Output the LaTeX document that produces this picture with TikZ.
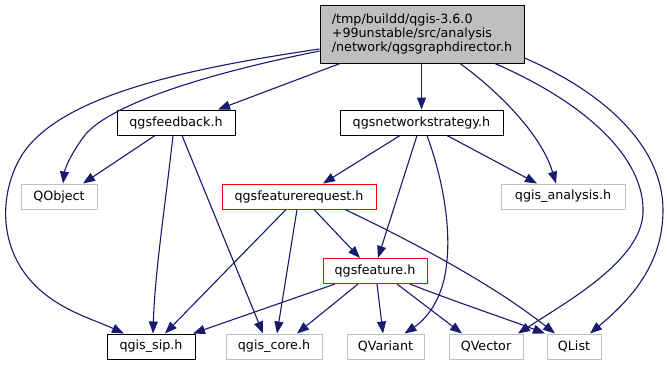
\documentclass[tikz,border=0pt]{standalone}
\usepackage{fontspec}
\setmainfont{DejaVu Sans}
\usetikzlibrary{arrows.meta}
\definecolor{edgeblue}{HTML}{191970}
\definecolor{extgray}{HTML}{BFBFBF}
\definecolor{hdrfill}{HTML}{BFBFBF}
\definecolor{docred}{HTML}{FF0000}
\begin{document}
\begin{tikzpicture}[x=1pt,y=-1pt,
  hbox/.style={draw, line width=1pt, minimum height=25pt, inner sep=0pt,
    font=\fontsize{12.7}{14}\selectfont},
  docbox/.style={hbox, draw=black},
  redbox/.style={hbox, draw=docred},
  extbox/.style={hbox, draw=extgray},
  dep/.style={draw=edgeblue, line width=1.1pt,
    -{Triangle[length=12pt,width=9pt]}, edgeblue}]
\useasboundingbox (0,0) rectangle (667,365);

% header files
\node[hbox, fill=hdrfill, minimum width=204pt, minimum height=58pt, align=left]
  (T) at (422,34) {/tmp/buildd/qgis-3.6.0\\+99unstable/src/analysis\\/network/qgsgraphdirector.h};
\node[docbox, minimum width=118pt] (F) at (176,122.5) {qgsfeedback.h};
\node[docbox, minimum width=163pt] (N) at (421.5,122.5) {qgsnetworkstrategy.h};
\node[extbox, minimum width=76pt]  (O) at (59,196.5) {QObject};
\node[redbox, minimum width=154pt] (R) at (299,196.5) {qgsfeaturerequest.h};
\node[extbox, minimum width=124pt] (A) at (563,196.5) {qgis\_analysis.h};
\node[redbox, minimum width=104pt] (E) at (375,271) {qgsfeature.h};
\node[docbox, minimum width=88pt]  (S) at (151,346.5) {qgis\_sip.h};
\node[extbox, minimum width=96pt]  (C) at (274,346.5) {qgis\_core.h};
\node[extbox, minimum width=77pt]  (V) at (385.5,346.5) {QVariant};
\node[extbox, minimum width=74pt]  (Q) at (486,346.5) {QVector};
\node[extbox, minimum width=54pt]  (L) at (574,346.5) {QList};

% includes of qgsgraphdirector.h
\path[dep] ([yshift=-15pt]T.west) .. controls (190,68) and (60,95) .. (22,155)
  .. controls (0,190) and (-5,250) .. (40,290)
  .. controls (65,312) and (95,320) .. ([xshift=-27pt]S.north);
\path[dep] ([yshift=-17pt]T.west) .. controls (200,75) and (110,105) .. (85,135)
  .. controls (72,152) and (65,168) .. ([xshift=4pt]O.north);
\path[dep] ([xshift=-82pt]T.south) -- ([xshift=42pt]F.north);
\path[dep] (N.north |- T.south) -- (N.north);
\path[dep] ([xshift=38pt]T.south) .. controls (490,85) and (540,130) .. ([xshift=-7pt]A.north);
\path[dep] ([xshift=73pt]T.south) .. controls (590,105) and (645,160) .. (643,213)
  .. controls (641,260) and (570,300) .. ([xshift=32pt]Q.north);
\path[dep] ([yshift=-24pt]T.east) .. controls (610,95) and (663,150) .. (663,210)
  .. controls (663,265) and (630,300) .. ([xshift=16pt]L.north);

% includes of qgsfeedback.h
\path[dep] ([xshift=-21pt]F.south) -- ([xshift=24pt]O.north);
\path[dep] ([xshift=-3pt]F.south) .. controls (166,200) and (155,270) .. ([xshift=2pt]S.north);
\path[dep] ([xshift=6pt]F.south) -- ([xshift=-11pt]C.north);

% includes of qgsnetworkstrategy.h
\path[dep] ([xshift=-21.5pt]N.south) -- ([xshift=24pt]R.north);
\path[dep] ([xshift=-4.5pt]N.south) -- ([xshift=3pt]E.north);
\path[dep] ([xshift=5.5pt]N.south) .. controls (445,185) and (450,230) .. (447,260)
  .. controls (444,300) and (425,320) .. ([xshift=19pt]V.north);
\path[dep] ([xshift=25.5pt]N.south) -- ([xshift=-26pt]A.north);

% includes of qgsfeaturerequest.h
\path[dep] ([xshift=-13pt]R.south) -- ([xshift=14pt]S.north);
\path[dep] ([xshift=-2pt]R.south) -- ([xshift=3pt]C.north);
\path[dep] ([xshift=15pt]R.south) -- ([xshift=-15pt]E.north);
\path[dep] ([xshift=46pt]R.south) .. controls (430,250) and (500,290) .. ([xshift=-19pt]L.north);

% includes of qgsfeature.h
\path[dep] ([xshift=-40pt]E.south) -- ([xshift=42pt]S.north);
\path[dep] ([xshift=-17pt]E.south) -- ([xshift=23pt]C.north);
\path[dep] ([xshift=2pt]E.south) -- ([xshift=-2.5pt]V.north);
\path[dep] ([xshift=22pt]E.south) -- ([xshift=-24pt]Q.north);
\path[dep] ([xshift=35pt]E.south) .. controls (450,300) and (510,320) .. ([xshift=-29pt]L.north);
\end{tikzpicture}
\end{document}
